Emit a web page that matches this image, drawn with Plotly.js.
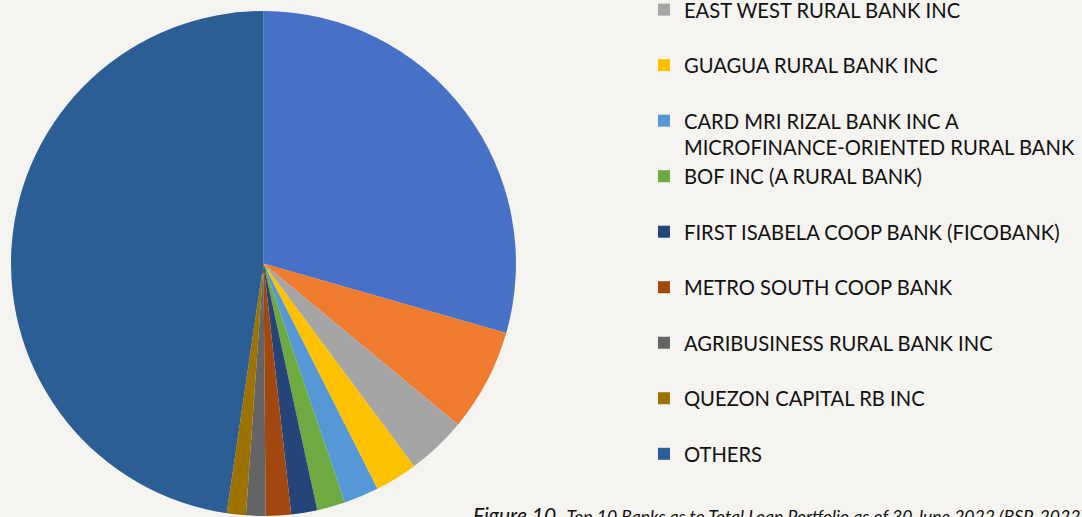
<!DOCTYPE html>
<html>
<head>
<meta charset="utf-8">
<script src="https://cdn.plot.ly/plotly-3.0.1.min.js"></script>
<style>
  html, body { margin: 0; padding: 0; background: #F5F4F0; }
  #chart { width: 1082px; height: 517px; }
</style>
</head>
<body>
<div id="chart"></div>
<script>
// ---- data (share of total loan portfolio, %) ----
const banks = [
  "CARD BANK INC",
  "SECOND LARGEST RURAL BANK",
  "EAST WEST RURAL BANK INC",
  "GUAGUA RURAL BANK INC",
  "CARD MRI RIZAL BANK INC A<br>MICROFINANCE-ORIENTED RURAL BANK",
  "BOF INC (A RURAL BANK)",
  "FIRST ISABELA COOP BANK (FICOBANK)",
  "METRO SOUTH COOP BANK",
  "AGRIBUSINESS RURAL BANK INC",
  "QUEZON CAPITAL RB INC",
  "OTHERS"
];
const shares = [29.44, 6.56, 3.83, 2.72, 2.24, 1.79, 1.67, 1.61, 1.25, 1.22, 47.67];
const sliceColors = [
  "#4671C7", "#EF7B2E", "#A5A5A5", "#FDC100", "#5697D6", "#6DAA42",
  "#254478", "#A1470F", "#646464", "#9C7300", "#2A5E94"
];
// the first two legend entries fall above the visible picture
const firstVisibleLegend = 2;
const captionLead = "Figure 10.";
const captionText = "Top 10 Banks as to Total Loan Portfolio as of 30 June 2022 (BSP, 2022)";

// legend labels: every entry takes two text lines so that entries are evenly spaced
const legendLabels = banks.slice(firstVisibleLegend).map(function (b) {
  return b.indexOf("<br>") >= 0 ? b : b + "<br> ";
});

const legendTrace = {
  type: "pie",
  labels: legendLabels,
  values: shares.slice(firstVisibleLegend),
  marker: { colors: sliceColors.slice(firstVisibleLegend) },
  sort: false,
  direction: "clockwise",
  textinfo: "none",
  hoverinfo: "skip",
  domain: { x: [0.23, 0.24], y: [0.48, 0.5] },
  showlegend: true
};

const mainTrace = {
  type: "pie",
  labels: banks.map(function (b) { return b.replace("<br> ", ""); }),
  values: shares,
  marker: { colors: sliceColors, line: { width: 0 } },
  sort: false,
  direction: "clockwise",
  rotation: 0,
  textinfo: "none",
  domain: { x: [0, 0.4715], y: [0, 1] },
  showlegend: false
};

const layout = {
  width: 1082,
  height: 517,
  paper_bgcolor: "#F5F4F0",
  plot_bgcolor: "#F5F4F0",
  margin: { l: 11, r: 0, t: 11, b: 1, autoexpand: false },
  font: { family: "Lato, 'Open Sans', sans-serif", color: "#111111" },
  legend: {
    x: 0.5910, xanchor: "left",
    y: 1.0416, yanchor: "top",
    xref: "paper", yref: "paper",
    valign: "top",
    maxheight: 2000,
    bgcolor: "rgba(0,0,0,0)",
    font: { family: "Lato, sans-serif", size: 20.2, color: "#111111" }
  },
  annotations: [{
    xref: "paper", yref: "paper",
    x: 0.4295, y: 0, xanchor: "left", yanchor: "top",
    yshift: 16,
    showarrow: false,
    align: "left",
    font: { family: "Lato, sans-serif", size: 21, color: "#111111" },
    text: "<i>" + captionLead + "</i> <i><span style='font-size:17.6px'>" + captionText + "</span></i>"
  }]
};

Plotly.newPlot("chart", [legendTrace, mainTrace], layout, { displayModeBar: false, staticPlot: true });
</script>
</body>
</html>
